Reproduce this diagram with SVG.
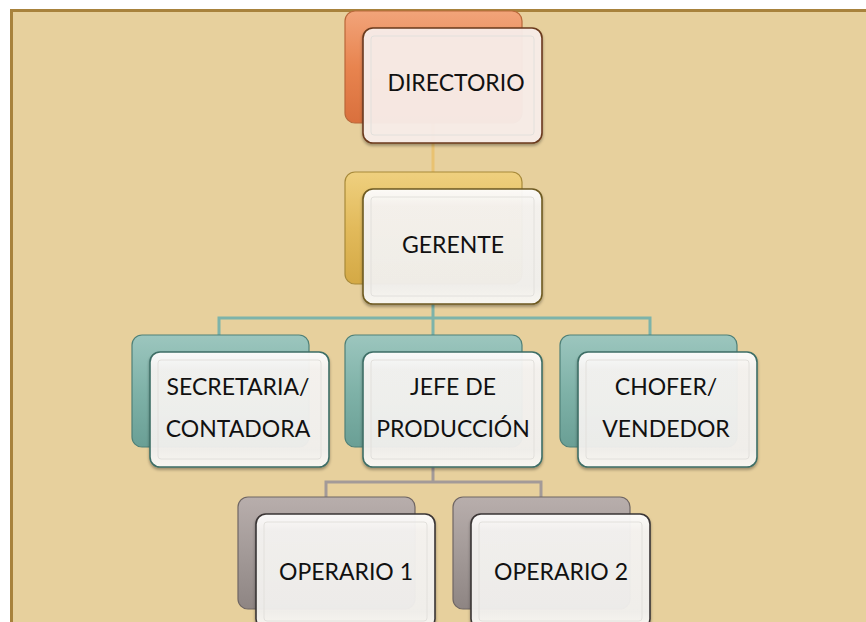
<svg xmlns="http://www.w3.org/2000/svg" width="866" height="622" viewBox="0 0 866 622">
<defs>
<linearGradient id="gOr" x1="0" y1="0" x2="0" y2="1"><stop offset="0" stop-color="#F2A47A"/><stop offset="0.5" stop-color="#E8844F"/><stop offset="1" stop-color="#D9703D"/></linearGradient>
<linearGradient id="gGo" x1="0" y1="0" x2="0" y2="1"><stop offset="0" stop-color="#EFD07F"/><stop offset="0.5" stop-color="#E2BA5B"/><stop offset="1" stop-color="#D4A945"/></linearGradient>
<linearGradient id="gTe" x1="0" y1="0" x2="0" y2="1"><stop offset="0" stop-color="#9CC6BE"/><stop offset="0.5" stop-color="#7FB2A8"/><stop offset="1" stop-color="#6A9F95"/></linearGradient>
<linearGradient id="gGr" x1="0" y1="0" x2="0" y2="1"><stop offset="0" stop-color="#B8AEAC"/><stop offset="0.5" stop-color="#A39A98"/><stop offset="1" stop-color="#8E8583"/></linearGradient>
<linearGradient id="gFr" x1="0" y1="0" x2="0" y2="1"><stop offset="0" stop-color="#FFFFFF"/><stop offset="0.15" stop-color="#F6F4F2"/><stop offset="0.85" stop-color="#F2F1EF"/><stop offset="1" stop-color="#FBFAF6"/></linearGradient>
<filter id="sh" x="-10%" y="-10%" width="120%" height="130%"><feDropShadow dx="0" dy="2" stdDeviation="1.5" flood-color="#000" flood-opacity="0.35"/></filter>
</defs>
<style>
.bg{fill:#E7D09D}
.frame{fill:none;stroke:#A8823C;stroke-width:3}
.back{stroke-width:1.2}
.or{fill:url(#gOr);stroke:#B9683A}
.go{fill:url(#gGo);stroke:#A88A3A}
.te{fill:url(#gTe);stroke:#4F8078}
.gr{fill:url(#gGr);stroke:#6F6664}
.front{fill:url(#gFr);fill-opacity:0.94;stroke-width:1.6;filter:url(#sh)}
.fOr{stroke:#6B3A1E;fill:#F9EEEA}
.fGo{stroke:#6E5A20}
.fTe{stroke:#3E6E66}
.fGr{stroke:#3A3636}
.bevel{fill:none;stroke:#E2E0DC;stroke-width:1}
.t{font-family:Lato,"Open Sans","Liberation Sans",sans-serif;font-size:23px;fill:#111;text-anchor:middle}
.c{fill:none;stroke-width:3}
.cGo{stroke:#E9C271}
.cTe{stroke:#7DB3AA}
.cGr{stroke:#A39A98}
</style>
<rect x="0" y="0" width="866" height="622" fill="#FFFFFF"/>
<rect class="bg" x="11" y="10" width="860" height="620"/>
<path class="frame" d="M11.5,630 V10.5 H870"/>

<g id="connectors">
<path class="c cGo" d="M433,122 V190"/>
<path class="c cTe" d="M433,300 V318 M219,336 V318 H650 V336 M433,318 V336"/>
<path class="c cGr" d="M433,462 V482 M326,498 V482 H541 V498"/>
</g>

<g id="directorio">
<rect class="back or" x="345" y="11" width="177" height="112" rx="10"/>
<rect class="front fOr" x="363" y="28" width="179" height="115" rx="10"/>
<rect class="bevel" x="371" y="36" width="163" height="99" rx="3"/>
<text class="t" x="456" y="91">DIRECTORIO</text>
</g>

<g id="gerente">
<rect class="back go" x="345" y="172" width="177" height="112" rx="10"/>
<rect class="front fGo" x="363" y="189" width="179" height="115" rx="10"/>
<rect class="bevel" x="371" y="197" width="163" height="99" rx="3"/>
<text class="t" x="453" y="253">GERENTE</text>
</g>

<g id="secretaria">
<rect class="back te" x="132" y="335" width="177" height="112" rx="10"/>
<rect class="front fTe" x="150" y="352" width="179" height="115" rx="10"/>
<rect class="bevel" x="158" y="360" width="163" height="99" rx="3"/>
<text class="t" x="238" y="395">SECRETARIA/</text>
<text class="t" x="238" y="437">CONTADORA</text>
</g>

<g id="jefe">
<rect class="back te" x="345" y="335" width="177" height="112" rx="10"/>
<rect class="front fTe" x="363" y="352" width="179" height="115" rx="10"/>
<rect class="bevel" x="371" y="360" width="163" height="99" rx="3"/>
<text class="t" x="453" y="395">JEFE DE</text>
<text class="t" x="453" y="437">PRODUCCIÓN</text>
</g>

<g id="chofer">
<rect class="back te" x="560" y="335" width="177" height="112" rx="10"/>
<rect class="front fTe" x="578" y="352" width="179" height="115" rx="10"/>
<rect class="bevel" x="586" y="360" width="163" height="99" rx="3"/>
<text class="t" x="666" y="395">CHOFER/</text>
<text class="t" x="666" y="437">VENDEDOR</text>
</g>

<g id="operario1">
<rect class="back gr" x="238" y="497" width="177" height="112" rx="10"/>
<rect class="front fGr" x="256" y="514" width="179" height="115" rx="10"/>
<rect class="bevel" x="264" y="522" width="163" height="99" rx="3"/>
<text class="t" x="346" y="580">OPERARIO 1</text>
</g>

<g id="operario2">
<rect class="back gr" x="453" y="497" width="177" height="112" rx="10"/>
<rect class="front fGr" x="471" y="514" width="179" height="115" rx="10"/>
<rect class="bevel" x="479" y="522" width="163" height="99" rx="3"/>
<text class="t" x="561" y="580">OPERARIO 2</text>
</g>
</svg>
